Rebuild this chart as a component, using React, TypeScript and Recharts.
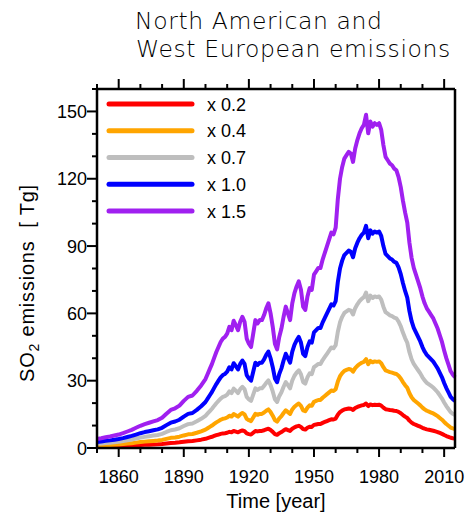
import React from 'react';
import { LineChart, Line, XAxis, YAxis } from 'recharts';

// x 1.0 emissions (Tg SO2)
const years = [
  1850, 1852, 1854, 1856, 1858, 1860, 1862, 1864, 1866, 1868, 1870, 1872, 1874, 1876, 1878, 1880,
  1882, 1884, 1886, 1888, 1890, 1892, 1894, 1896, 1898, 1900, 1901, 1902, 1903, 1904, 1905, 1906,
  1907, 1908, 1909, 1910, 1911, 1912, 1913, 1914, 1915, 1916, 1917, 1918, 1919, 1920, 1921, 1922,
  1923, 1924, 1925, 1926, 1927, 1928, 1929, 1930, 1931, 1932, 1933, 1934, 1935, 1936, 1937, 1938,
  1939, 1940, 1941, 1942, 1943, 1944, 1945, 1946, 1947, 1948, 1949, 1950, 1951, 1952, 1953, 1954,
  1955, 1956, 1957, 1958, 1959, 1960, 1961, 1962, 1963, 1964, 1965, 1966, 1967, 1968, 1969, 1970,
  1971, 1972, 1973, 1974, 1975, 1976, 1977, 1978, 1979, 1980, 1981, 1982, 1983, 1984, 1985, 1986,
  1987, 1988, 1989, 1990, 1991, 1992, 1993, 1994, 1995, 1996, 1997, 1998, 1999, 2000, 2001, 2002,
  2003, 2004, 2005, 2006, 2007, 2008, 2009, 2010, 2011, 2012, 2013, 2014, 2015,
];

const baseEmissions = [
  2.7, 2.9, 3.2, 3.4, 3.7, 4.0, 4.4, 4.9, 5.4, 6.0, 6.6, 7.1, 7.5, 7.9, 8.3, 9.0,
  10.2, 11.3, 11.8, 12.6, 14.0, 15.2, 15.6, 17.0, 18.6, 20.5, 22.0, 23.5, 25.0, 26.8, 28.5, 30.0,
  31.5, 32.5, 33.0, 34.0, 36.0, 35.0, 37.8, 36.5, 35.0, 37.5, 39.0, 37.5, 32.5, 31.0, 30.0, 34.0,
  38.0, 37.0, 38.0, 38.0, 39.5, 41.5, 43.0, 40.0, 36.0, 31.0, 29.3, 33.0, 35.5, 39.0, 42.0, 40.0,
  38.0, 43.0, 46.0, 48.0, 49.5, 47.0, 42.0, 41.0, 45.0, 47.5, 47.0, 51.5, 52.5, 53.5, 53.5, 56.0,
  58.0, 60.0, 62.0, 64.0, 63.5, 65.5, 74.0, 80.0, 83.5, 86.0, 87.0, 88.0, 87.5, 85.0, 89.0, 91.5,
  93.5, 95.0, 96.0, 99.0, 93.5, 97.0, 95.5, 96.5, 96.0, 96.5, 94.5, 90.0, 86.5, 85.5, 84.5, 84.0,
  83.0, 82.5, 80.5, 77.5, 73.5, 70.0, 67.0, 61.0, 56.5, 53.5, 51.5, 49.5, 47.5, 45.0, 43.0, 41.5,
  40.5, 39.5, 38.5, 37.0, 35.5, 33.5, 31.5, 29.0, 26.7, 24.8, 22.8, 21.8, 21.0,
];

const scaleFactors = [0.2, 0.4, 0.7, 1.0, 1.5];
const scaleLabels = ['x 0.2', 'x 0.4', 'x 0.7', 'x 1.0', 'x 1.5'];
const scaleColors = ['#FF0000', '#FFA500', '#BEBEBE', '#0000FF', '#A020F0'];

const xTicks = [1850, 1860, 1870, 1880, 1890, 1900, 1910, 1920, 1930, 1940, 1950, 1960, 1970, 1980, 1990, 2000, 2010];
const xLabels = [1860, 1890, 1920, 1950, 1980, 2010];
const yTicks = [0, 10, 20, 30, 40, 50, 60, 70, 80, 90, 100, 110, 120, 130, 140, 150, 160];
const yLabels = [0, 30, 60, 90, 120, 150];

const data = years.map((year, i) => {
  const row: any = { year };
  scaleFactors.forEach((f, k) => {
    row[`s${k}`] = baseEmissions[i] * f;
  });
  return row;
});

const FONT = '"Liberation Sans", Arial, sans-serif';

const BottomTick = (props: any) => {
  const { x, y, payload } = props;
  const major = xLabels.includes(payload.value);
  return (
    <g>
      <line x1={x} y1={y} x2={x} y2={y + (major ? 9 : 5)} stroke="#000" strokeWidth={2} />
      {major && (
        <text x={x} y={y + 35} textAnchor="middle" fontSize={18} fontFamily={FONT} fill="#000">
          {payload.value}
        </text>
      )}
    </g>
  );
};

const TopTick = (props: any) => {
  const { x, y, payload } = props;
  const major = xLabels.includes(payload.value);
  return <line x1={x} y1={y} x2={x} y2={y - (major ? 10 : 5)} stroke="#000" strokeWidth={2} />;
};

const LeftTick = (props: any) => {
  const { x, y, payload } = props;
  const major = yLabels.includes(payload.value);
  return (
    <g>
      <line x1={x} y1={y} x2={x - (major ? 10 : 5)} y2={y} stroke="#000" strokeWidth={2} />
      {major && (
        <text x={x - 10} y={y + 6.5} textAnchor="end" fontSize={18} fontFamily={FONT} fill="#000">
          {payload.value}
        </text>
      )}
    </g>
  );
};

const RightTick = (props: any) => {
  const { x, y, payload } = props;
  const major = yLabels.includes(payload.value);
  return <line x1={x} y1={y} x2={x + (major ? 10 : 6)} y2={y} stroke="#000" strokeWidth={2} />;
};

export default function App() {
  const axisLine = { stroke: '#000', strokeWidth: 2.5 };
  return (
    <div style={{ position: 'absolute', left: 0, top: 0, width: 469, height: 516, background: '#fff' }}>
      <LineChart width={469} height={516} data={data} margin={{ top: 0, right: 0, bottom: 0, left: 0 }}>
        <XAxis
          dataKey="year"
          type="number"
          domain={[1850, 2015]}
          ticks={xTicks}
          interval={0}
          height={68}
          tickSize={0}
          tickMargin={0}
          tickLine={false}
          axisLine={axisLine}
          tick={<BottomTick />}
        />
        <XAxis
          xAxisId="top"
          dataKey="year"
          type="number"
          orientation="top"
          domain={[1850, 2015]}
          ticks={xTicks}
          interval={0}
          height={89}
          tickSize={0}
          tickMargin={0}
          tickLine={false}
          axisLine={axisLine}
          tick={<TopTick />}
        />
        <YAxis
          type="number"
          domain={[0, 160]}
          ticks={yTicks}
          interval={0}
          width={97}
          tickSize={0}
          tickMargin={0}
          tickLine={false}
          axisLine={axisLine}
          tick={<LeftTick />}
        />
        <YAxis
          yAxisId="right"
          orientation="right"
          type="number"
          domain={[0, 160]}
          ticks={yTicks}
          interval={0}
          width={14}
          tickSize={0}
          tickMargin={0}
          tickLine={false}
          axisLine={axisLine}
          tick={<RightTick />}
        />
        {scaleFactors.map((f, k) => (
          <Line
            key={k}
            type="linear"
            dataKey={`s${k}`}
            stroke={scaleColors[k]}
            strokeWidth={4}
            strokeLinejoin="round"
            dot={false}
            isAnimationActive={false}
          />
        ))}
      </LineChart>
      <svg width={469} height={516} style={{ position: 'absolute', left: 0, top: 0, pointerEvents: 'none' }}>
        <text x={135} y={29} fontSize={23.5} fontWeight={200} letterSpacing={0.6} fontFamily='"DejaVu Sans", sans-serif' fill="#000">
          North American and
        </text>
        <text x={136} y={57} fontSize={23.5} fontWeight={200} letterSpacing={0.6} fontFamily='"DejaVu Sans", sans-serif' fill="#000">
          West European emissions
        </text>
        {scaleLabels.map((lab, k) => (
          <g key={lab}>
            <line x1={109} x2={192} y1={104 + k * 26.75} y2={104 + k * 26.75} stroke={scaleColors[k]} strokeWidth={5} strokeLinecap="round" />
            <text x={207} y={110.5 + k * 26.75} fontSize={18} fontFamily={FONT} fill="#000">
              {lab}
            </text>
          </g>
        ))}
        <text
          transform="translate(34,283) rotate(-90)"
          textAnchor="middle"
          fontSize={20}
          letterSpacing={0.8}
          fontFamily={FONT}
          fill="#000"
          style={{ whiteSpace: 'pre' }}
        >
          SO<tspan fontSize={14} dy={5}>2</tspan>
          <tspan dy={-5}>{' emissions  [ Tg]'}</tspan>
        </text>
        <text x={276} y={508} textAnchor="middle" fontSize={20} fontFamily={FONT} fill="#000">
          Time [year]
        </text>
      </svg>
    </div>
  );
}
